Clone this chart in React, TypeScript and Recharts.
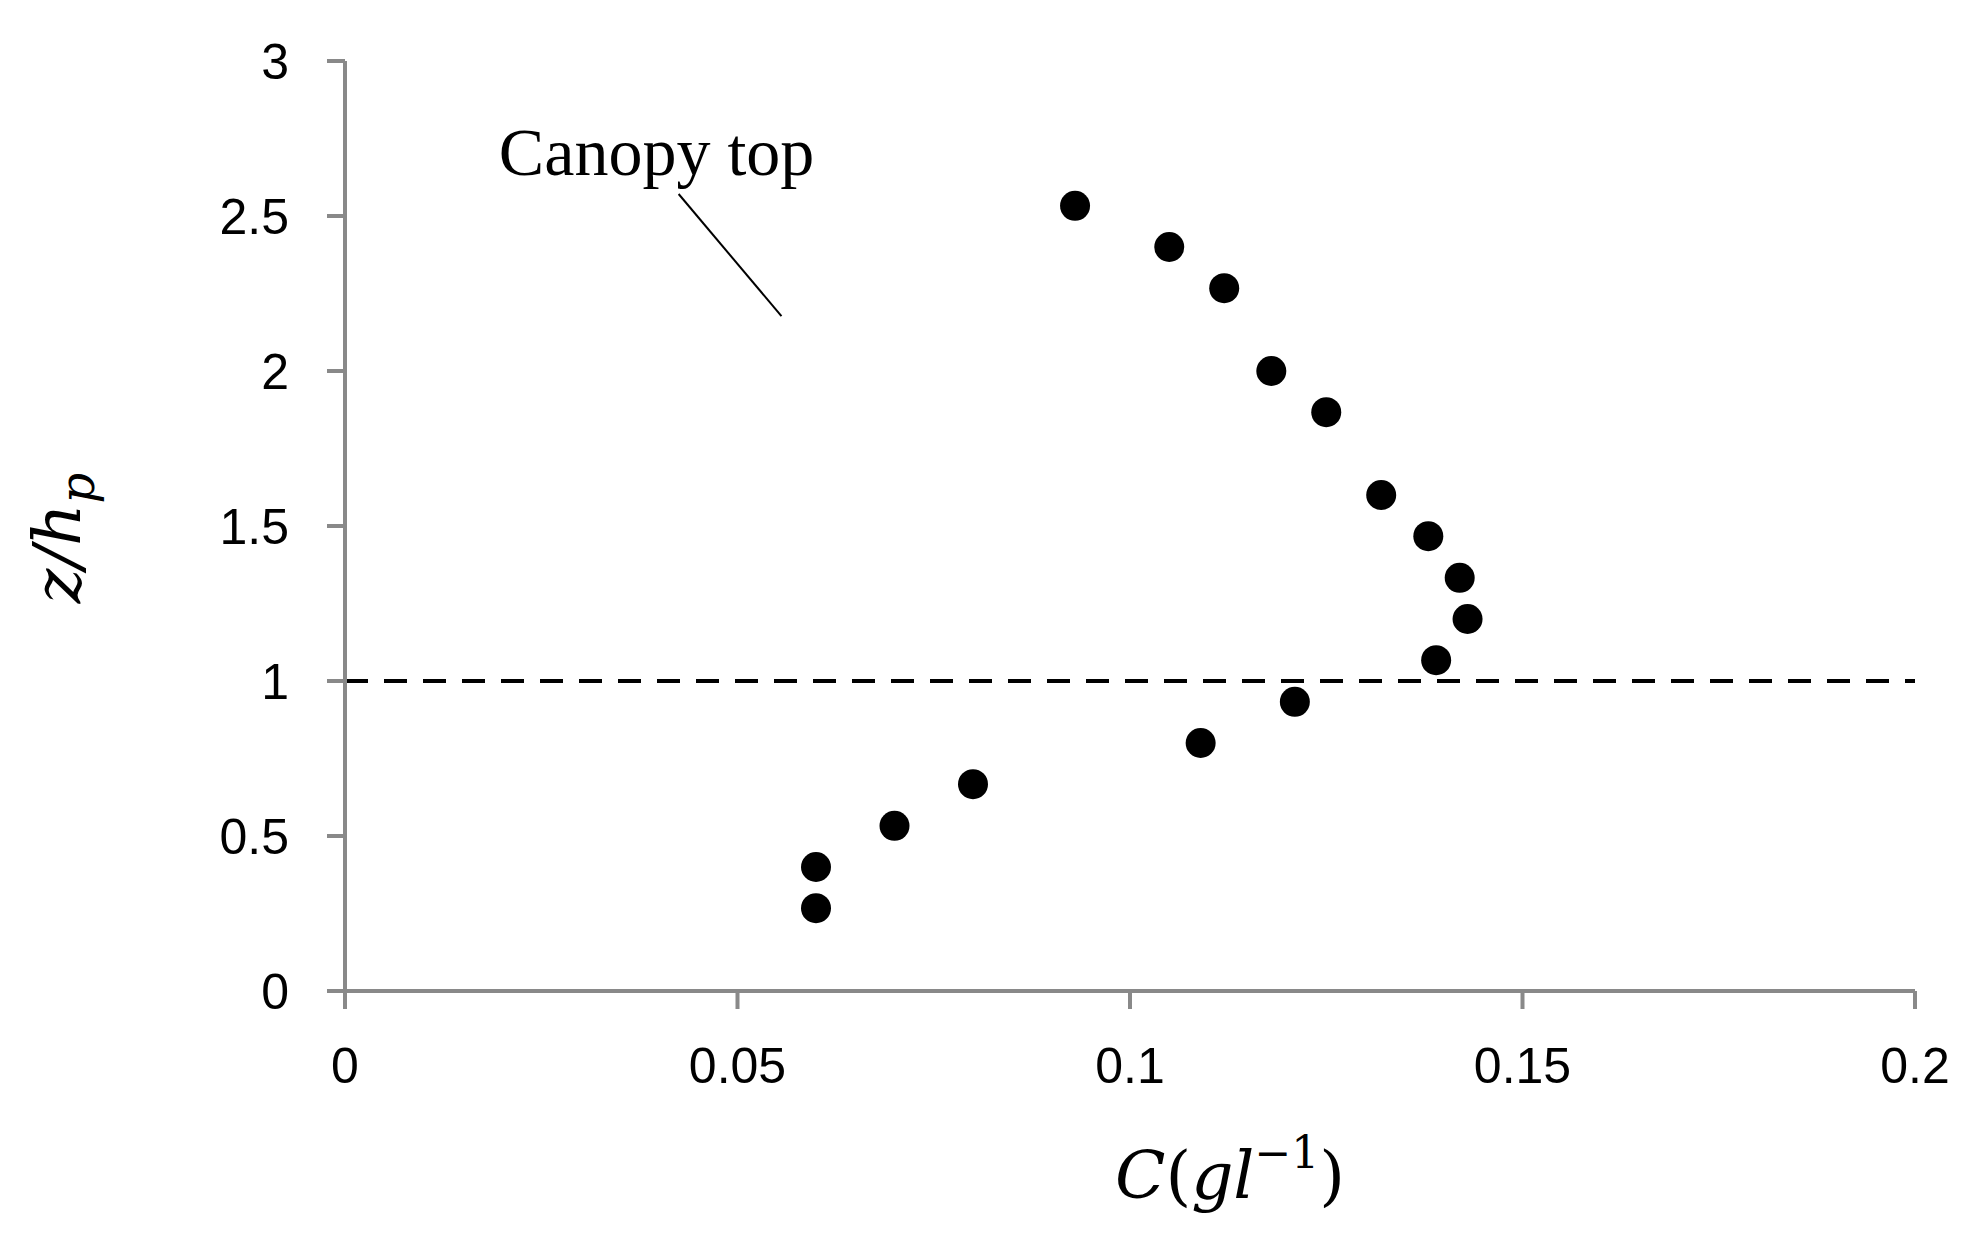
import React from 'react';
import {
  ScatterChart,
  Scatter,
  XAxis,
  YAxis,
  ReferenceLine,
  ReferenceDot,
} from 'recharts';

// concentration C (g/l) and relative height z/hp
const concentration = [
  0.093, 0.105, 0.112, 0.118, 0.125, 0.132, 0.138, 0.142,
  0.143, 0.139, 0.121, 0.109, 0.08, 0.07, 0.06, 0.06,
];
const relHeight = [
  2.533, 2.4, 2.267, 2.0, 1.867, 1.6, 1.467, 1.333,
  1.2, 1.067, 0.933, 0.8, 0.667, 0.533, 0.4, 0.267,
];

const xTicks = [0, 0.05, 0.1, 0.15, 0.2];
const yTicks = [0, 0.5, 1, 1.5, 2, 2.5, 3];

const canopyTop = 1;
const canopyLabel = 'Canopy top';
const labelAnchor = { x: 0.0196, y: 2.632 };
const pointer = [
  { x: 0.0425, y: 2.571 },
  { x: 0.0556, y: 2.177 },
];

const data = concentration.map((c, i) => ({ c, z: relHeight[i] }));

const axisColor = '#898989';
const tickStyle = { fill: '#000', fontSize: 50, fontFamily: 'Liberation Sans, Arial, sans-serif' };

const Dot = (props: any) => {
  const { cx, cy } = props;
  return <circle cx={cx} cy={cy} r={15} fill="#000" />;
};

const XLabel = (props: any) => {
  const { viewBox } = props;
  const x = viewBox.x + viewBox.width / 2 + 100;
  const y = viewBox.y + 207;
  return (
    <text x={x} y={y} textAnchor="middle" fontFamily="DejaVu Serif, serif" fontSize={66} fill="#000">
      <tspan fontStyle="italic">C</tspan>
      <tspan>(</tspan>
      <tspan fontStyle="italic">gl</tspan>
      <tspan fontSize={44} dy={-30}>−1</tspan>
      <tspan dy={30}>)</tspan>
    </text>
  );
};

const YLabel = (props: any) => {
  const { viewBox } = props;
  const x = viewBox.x - 165;
  const y = viewBox.y + viewBox.height / 2 + 12;
  return (
    <text
      x={x}
      y={y}
      textAnchor="middle"
      transform={`rotate(-90, ${x}, ${y})`}
      fontFamily="DejaVu Serif, serif"
      fontSize={66}
      fontStyle="italic"
      fill="#000"
    >
      <tspan>z/h</tspan>
      <tspan fontSize={48} dy={14}>p</tspan>
    </text>
  );
};

const CanopyText = (props: any) => {
  const { viewBox } = props;
  return (
    <text x={viewBox.x} y={viewBox.y} fontFamily="Liberation Serif, Times New Roman, serif" fontSize={68} fill="#000">
      {canopyLabel}
    </text>
  );
};

export default function App() {
  return (
    <div style={{ position: 'absolute', left: 0, top: 0, background: '#fff' }}>
      <ScatterChart
        width={1983}
        height={1241}
        margin={{ top: 61, right: 68, bottom: 150, left: 245 }}
      >
        <XAxis
          type="number"
          dataKey="c"
          domain={[0, 0.2]}
          ticks={xTicks}
          height={100}
          tick={tickStyle}
          tickSize={18}
          tickMargin={38}
          axisLine={{ stroke: axisColor, strokeWidth: 4 }}
          tickLine={{ stroke: axisColor, strokeWidth: 4 }}
          label={<XLabel />}
        />
        <YAxis
          type="number"
          dataKey="z"
          domain={[0, 3]}
          ticks={yTicks}
          width={100}
          tick={tickStyle}
          tickSize={18}
          tickMargin={38}
          axisLine={{ stroke: axisColor, strokeWidth: 4 }}
          tickLine={{ stroke: axisColor, strokeWidth: 4 }}
          label={<YLabel />}
        />
        <ReferenceLine y={canopyTop} stroke="#000" strokeWidth={4} strokeDasharray="23 16" />
        <ReferenceLine segment={pointer} stroke="#000" strokeWidth={2} />
        <ReferenceDot x={labelAnchor.x} y={labelAnchor.y} r={0} fill="none" stroke="none" label={<CanopyText />} />
        <Scatter data={data} shape={<Dot />} isAnimationActive={false} />
      </ScatterChart>
    </div>
  );
}
